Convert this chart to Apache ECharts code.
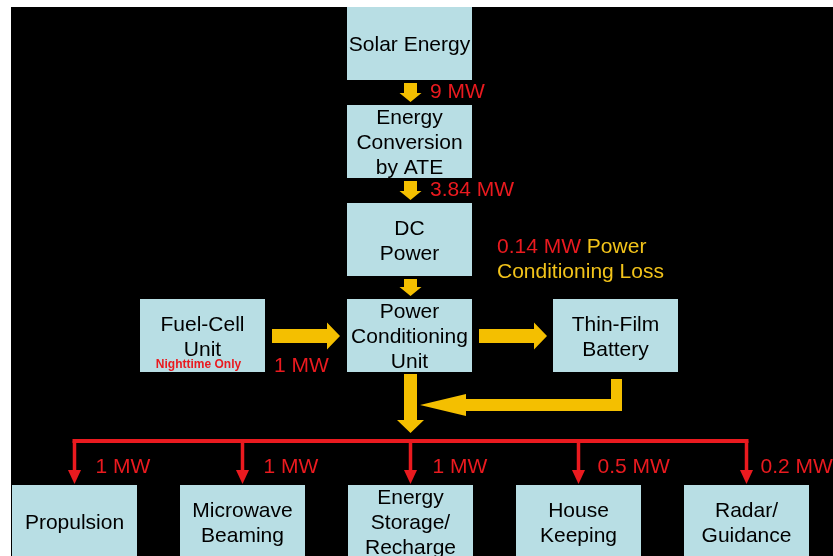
<!DOCTYPE html>
<html>
<head>
<meta charset="utf-8">
<script src="https://cdn.jsdelivr.net/npm/echarts@6/dist/echarts.min.js"></script>
<style>
  html, body { margin: 0; padding: 0; background: #fff; }
  #chart { width: 833px; height: 556px; }
</style>
</head>
<body>
<div id="chart"></div>
<script type="application/javascript">

// diagram content
var chainNames = ['Solar Energy', 'Energy\nConversion\nby ATE', 'DC\nPower', 'Power\nConditioning\nUnit'];
var chainFlows = ['9 MW', '3.84 MW'];
var sideNames = ['Fuel-Cell\nUnit', 'Thin-Film\nBattery'];
var fuelNote = 'Nighttime Only';
var fuelFlow = '1 MW';
var lossValue = '0.14 MW';
var lossText = ['Power', 'Conditioning Loss'];
var loadNames = ['Propulsion', 'Microwave\nBeaming', 'Energy\nStorage/\nRecharge', 'House\nKeeping', 'Radar/\nGuidance'];
var loadFlows = ['1 MW', '1 MW', '1 MW', '0.5 MW', '0.2 MW'];

// layout, in pixels of the slide
var BOX_W = 125, BOX_H = 73;
var chainX = 347, chainY = [7, 105, 203, 299];
var sideX = [140, 553], sideY = 299;
var loadX0 = 12, loadStep = 168, loadY = 485;
var busY = 441;
var loadLabelDx = [21, 21, 22, 19, 14];

var BOX_FILL = '#b8dee4';
var YELLOW = '#f4bf00';
var RED = '#ea1a1f';
var FONT = '"Liberation Sans", Arial, sans-serif';

// boxes: [x, y, label]
var boxes = [];
chainNames.forEach(function (n, i) { boxes.push([chainX, chainY[i], n]); });
sideNames.forEach(function (n, i) { boxes.push([sideX[i], sideY, n]); });
loadNames.forEach(function (n, i) { boxes.push([loadX0 + i * loadStep, loadY, n]); });

// yellow arrows: [x1, y1, x2, y2, bodyW, headW, headL]
var cx = chainX + BOX_W / 2 + 1;
var yellowArrows = [];
for (var i = 0; i < 3; i++) {
    var y0 = chainY[i] + BOX_H + 3;
    yellowArrows.push([cx, y0, cx, chainY[i + 1] - 3, 13, 22, 9]);
}
yellowArrows.push([272, 336, 340, 336, 14, 27, 13]);
yellowArrows.push([479, 336, 547, 336, 14, 27, 13]);
yellowArrows.push([cx, 374, cx, 433, 13, 27, 13]);
yellowArrows.push([612, 405, 420, 405, 12, 22, 46]);

// text labels: [x, y, text, color, size, weight, align]
var labels = [];
chainFlows.forEach(function (t, i) {
    labels.push([430, chainY[i] + BOX_H + 12, t, RED, 21, 'normal', 'left']);
});
labels.push([sideX[0] + BOX_W / 2 - 4, 365, fuelNote, RED, 12, 'bold', 'center']);
labels.push([274, 366, fuelFlow, RED, 21, 'normal', 'left']);
labels.push([497, 272, lossText[1], '#f2c31a', 21, 'normal', 'left']);
loadFlows.forEach(function (t, i) {
    labels.push([loadX0 + i * loadStep + BOX_W / 2 + loadLabelDx[i], 467, t, RED, 21, 'normal', 'left']);
});

function px(api, x, y) { return api.coord([x, y]); }

function renderBox(params, api) {
    var b = boxes[params.dataIndex];
    var p = px(api, b[0], b[1]);
    var q = px(api, b[0] + BOX_W, b[1] + BOX_H);
    return {
        type: 'group',
        children: [
            { type: 'rect', shape: { x: p[0], y: p[1], width: q[0] - p[0], height: q[1] - p[1] },
              style: { fill: BOX_FILL } },
            { type: 'text', style: { text: b[2], x: (p[0] + q[0]) / 2, y: (p[1] + q[1]) / 2 + 2,
              align: 'center', verticalAlign: 'middle', fill: '#000',
              fontSize: 21, fontFamily: FONT, lineHeight: 25 } }
        ]
    };
}

function arrowPoints(a) {
    var dx = a[2] - a[0], dy = a[3] - a[1], len = Math.sqrt(dx * dx + dy * dy);
    var ux = dx / len, uy = dy / len, nx = -uy, ny = ux;
    var bx = a[2] - ux * a[6], by = a[3] - uy * a[6];
    var hb = a[4] / 2, hh = a[5] / 2;
    return [
        [a[0] + nx * hb, a[1] + ny * hb], [bx + nx * hb, by + ny * hb], [bx + nx * hh, by + ny * hh],
        [a[2], a[3]],
        [bx - nx * hh, by - ny * hh], [bx - nx * hb, by - ny * hb], [a[0] - nx * hb, a[1] - ny * hb]
    ];
}

function renderYellow(params, api) {
    var a = yellowArrows[params.dataIndex];
    var pts = arrowPoints(a).map(function (p) { return px(api, p[0], p[1]); });
    return { type: 'polygon', shape: { points: pts }, style: { fill: YELLOW } };
}

function renderLabel(params, api) {
    var l = labels[params.dataIndex];
    var p = px(api, l[0], l[1]);
    return { type: 'text', style: { text: l[2], x: p[0], y: p[1], fill: l[3], fontSize: l[4],
        fontWeight: l[5], fontFamily: FONT, align: l[6], verticalAlign: 'middle' } };
}

function renderExtras(params, api) {
    var children = [];
    // battery drop bar
    var b0 = px(api, 611, 379), b1 = px(api, 622, 411);
    children.push({ type: 'rect', shape: { x: b0[0], y: b0[1], width: b1[0] - b0[0], height: b1[1] - b0[1] },
        style: { fill: YELLOW } });
    // loss text, first line in two colours
    var t = px(api, 497, 247);
    children.push({ type: 'text', style: {
        text: '{r|' + lossValue + '} {y|' + lossText[0] + '}', x: t[0], y: t[1], verticalAlign: 'middle',
        fontSize: 21, fontFamily: FONT,
        rich: { r: { fill: RED, fontSize: 21, fontFamily: FONT }, y: { fill: '#f2c31a', fontSize: 21, fontFamily: FONT } }
    } });
    // red distribution bus
    var c0 = loadX0 + BOX_W / 2, cN = loadX0 + (loadNames.length - 1) * loadStep + BOX_W / 2;
    children.push({ type: 'line', shape: { x1: px(api, c0 - 2, busY)[0], y1: px(api, 0, busY)[1],
        x2: px(api, cN + 2, busY)[0], y2: px(api, 0, busY)[1] }, style: { stroke: RED, lineWidth: 4 } });
    loadNames.forEach(function (n, i) {
        var x = loadX0 + i * loadStep + BOX_W / 2;
        var top = px(api, x, busY), mid = px(api, x, 470), tip = px(api, x, 484);
        children.push({ type: 'line', shape: { x1: top[0], y1: top[1], x2: mid[0], y2: mid[1] + 2 },
            style: { stroke: RED, lineWidth: 3.5 } });
        children.push({ type: 'polygon', shape: { points: [[mid[0] - 6.5, mid[1]], [mid[0] + 6.5, mid[1]], [tip[0], tip[1]]] },
            style: { fill: RED } });
    });
    return { type: 'group', children: children };
}

function idx(arr) { return arr.map(function (d, i) { return [i]; }); }

var myChart = echarts.init(document.getElementById('chart'));
var option = {
    animation: false,
    backgroundColor: '#fff',
    grid: { left: 11, top: 7, right: 0, bottom: 0, show: true, backgroundColor: '#000', borderWidth: 0 },
    xAxis: { type: 'value', min: 11, max: 833, show: false },
    yAxis: { type: 'value', min: 7, max: 556, inverse: true, show: false },
    series: [
        { type: 'custom', renderItem: renderBox, data: idx(boxes), silent: true },
        { type: 'custom', renderItem: renderYellow, data: idx(yellowArrows), silent: true },
        { type: 'custom', renderItem: renderExtras, data: [[0]], silent: true },
        { type: 'custom', renderItem: renderLabel, data: idx(labels), silent: true }
    ]
};
myChart.setOption(option);
</script>
</body>
</html>
